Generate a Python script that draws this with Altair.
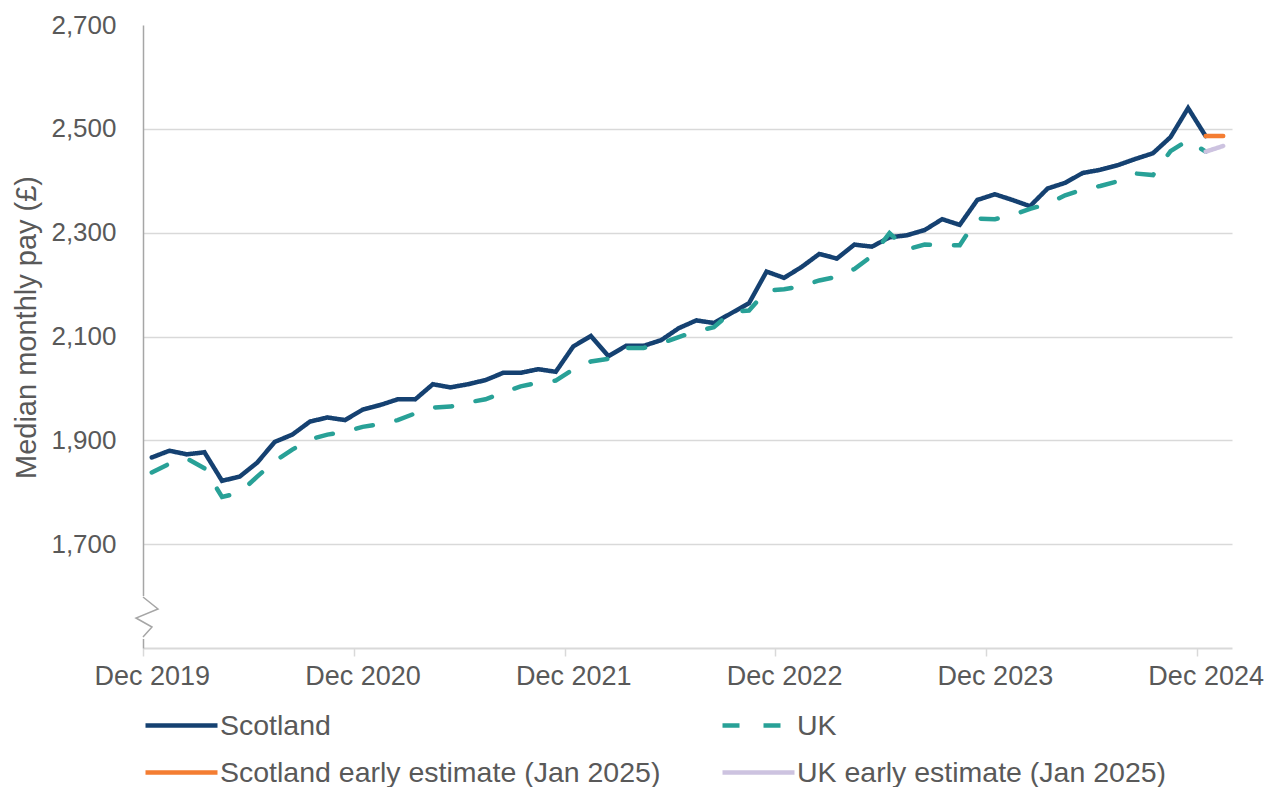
import altair as alt
import pandas as pd

FONT = "Liberation Sans"
TEXT = "#595959"

MONTH_NAMES = ["Jan", "Feb", "Mar", "Apr", "May", "Jun",
               "Jul", "Aug", "Sep", "Oct", "Nov", "Dec"]
# Dec 2019 ... Jan 2025 (62 monthly categories on the axis)
months = [f"{MONTH_NAMES[(11 + i) % 12]} {2019 + (11 + i) // 12}" for i in range(62)]

scotland = [1867, 1880, 1873, 1877, 1822, 1830, 1857, 1897, 1911, 1936,
            1944, 1939, 1959, 1968, 1979, 1979, 2008, 2002, 2008, 2016,
            2030, 2030, 2037, 2032, 2081, 2101, 2062, 2082, 2082, 2093,
            2116, 2131, 2126, 2145, 2164, 2225, 2213, 2234, 2259, 2250,
            2277, 2273, 2291, 2295, 2305, 2326, 2315, 2363, 2374, 2363,
            2351, 2385, 2396, 2415, 2421, 2430, 2442, 2453, 2484, 2540, 2486]
uk = [1838, 1855, 1865, 1846, 1791, 1799, 1830, 1860, 1882, 1902,
      1911, 1916, 1926, 1931, 1939, 1952, 1963, 1965, 1973, 1979,
      1992, 2004, 2011, 2015, 2037, 2052, 2057, 2078, 2078, 2087,
      2099, 2110, 2118, 2147, 2150, 2188, 2191, 2197, 2208, 2215,
      2230, 2255, 2299, 2268, 2277, 2276, 2276, 2327, 2326, 2334,
      2346, 2355, 2372, 2383, 2390, 2399, 2414, 2411, 2457, 2478, 2456]
# early estimates: Dec 2024 -> Jan 2025
scotland_early = [2486, 2486]
uk_early = [2456, 2467]

SC, UK = "Scotland", "UK"
SC_E, UK_E = "Scotland early estimate (Jan 2025)", "UK early estimate (Jan 2025)"

# legend is filled column by column: column 1 = Scotland rows, column 2 = UK rows
legend_order = [SC, SC_E, UK, UK_E]
legend_colors = ["#154171", "#F47D32", "#28A197", "#CDC3E0"]
legend_dashes = [[1, 0], [1, 0], [17, 24], [1, 0]]
draw_order = [SC, UK, SC_E, UK_E]

y_ticks = [1700, 1900, 2100, 2300, 2500, 2700]
x_ticks = [0, 12, 24, 36, 48, 60]

rows = []
for i, v in enumerate(scotland):
    rows.append({"idx": i, "month": months[i], "value": v, "series": SC})
for i, v in enumerate(uk):
    rows.append({"idx": i, "month": months[i], "value": v, "series": UK})
for k, v in enumerate(scotland_early):
    rows.append({"idx": 60 + k, "month": months[60 + k], "value": v, "series": SC_E})
for k, v in enumerate(uk_early):
    rows.append({"idx": 60 + k, "month": months[60 + k], "value": v, "series": UK_E})
df = pd.DataFrame(rows)

legend = alt.Legend(
    title=None, orient="none", legendX=0, legendY=686, columns=2,
    symbolType="stroke", symbolSize=5184, symbolStrokeWidth=4.5,
    clipHeight=29, rowPadding=18, columnPadding=59, labelOffset=0,
    labelFont=FONT, labelFontSize=28.5, labelColor=TEXT, labelLimit=1000,
    padding=0,
)

x = alt.X(
    "pos:Q",
    scale=alt.Scale(domain=[0, 62], nice=False, zero=False),
    axis=alt.Axis(
        values=x_ticks, title=None,
        labelExpr="'Dec ' + (2019 + datum.value / 12)",
        labelOffset=8.8, labelPadding=7, labelFlush=False, labelOverlap=False,
        tickSize=8, tickColor="#D9D9D9", tickWidth=1.5,
        domainColor="#D9D9D9", domainWidth=2, grid=False,
        labelFont=FONT, labelFontSize=27, labelColor=TEXT,
    ),
)
y = alt.Y(
    "value:Q",
    scale=alt.Scale(domain=[1500, 2700], nice=False, zero=False),
    axis=alt.Axis(
        values=y_ticks, format=",.0f", ticks=False, labelPadding=27,
        labelFont=FONT, labelFontSize=26, labelColor=TEXT,
        domainColor="#A6A6A6", domainWidth=1.5,
        grid=True, gridColor="#D9D9D9", gridWidth=1.5,
        gridOpacity={"condition": {"test": "datum.value >= 2700", "value": 0}, "value": 1},
        title="Median monthly pay (£)", titleFont=FONT, titleFontSize=29,
        titleFontWeight="normal", titleColor=TEXT,
        titleX=-117, titleY=302, titleAngle=270,
        titleAlign="center", titleBaseline="middle",
    ),
)
color = alt.Color("series:N", scale=alt.Scale(domain=legend_order, range=legend_colors), legend=legend)
dash = alt.StrokeDash("series:N", scale=alt.Scale(domain=legend_order, range=legend_dashes), legend=legend)

base = alt.Chart(df).transform_calculate(pos="datum.idx + 0.5").mark_line(
    strokeWidth=4.5, strokeCap="round"
).encode(x=x, y=y, color=color, strokeDash=dash, order="idx:Q")

line_layers = [base.transform_filter(alt.datum.series == s) for s in draw_order]

one = pd.DataFrame({"a": [0]})
axis_gap = alt.Chart(one).mark_rule(color="white", strokeWidth=5).encode(
    x=alt.value(0), y=alt.value(571), y2=alt.value(614)
)
zigzag = alt.Chart(one).mark_point(
    shape="M0,-1L0.75,-0.4L-0.35,0.05L0.45,0.5L0,1",
    size=1600, filled=False, stroke="#A6A6A6", strokeWidth=1.5, opacity=1,
).encode(x=alt.value(0), y=alt.value(592))

chart = alt.layer(*line_layers, axis_gap, zigzag).properties(
    width=1089, height=623,
    autosize=alt.AutoSizeParams(type="none"),
    padding={"left": 135, "top": 17, "right": 38, "bottom": 139},
).configure(font=FONT).configure_view(stroke=None)

chart.save("out.html", embed_options={"renderer": "svg", "actions": False})
